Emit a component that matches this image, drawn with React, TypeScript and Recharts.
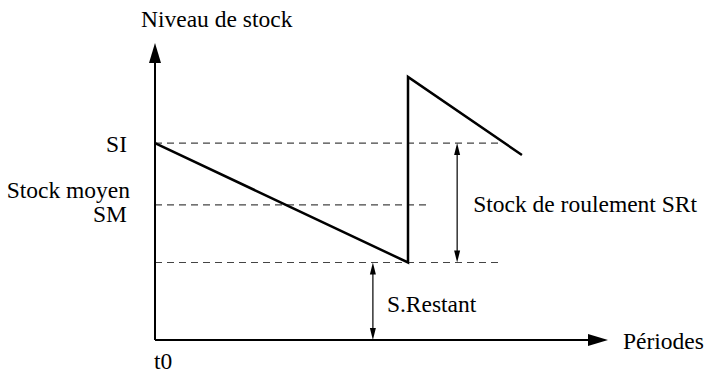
import { ComposedChart, Line, XAxis, YAxis, ReferenceLine, ReferenceDot } from 'recharts';

// sawtooth corner points (period, stock level) on a 0-100 scale
const periodX = [0, 55.85, 55.85, 81.0];
const stockLevel = [66.3, 26.1, 88.6, 62.3];

// horizontal reference levels: SI, SM, stock restant
const levelNames = ['SI', 'SM', 'SR'];
const levelValues = [66.3, 45.5, 26.1];
const levelDashEnd = [76.6, 60.3, 76.8];

// vertical double arrows
const srtArrowX = 66.7;
const restArrowX = 48.1;

const FONT = 'Liberation Serif';
const FS = 23.5;

const chartData = periodX.map((x, i) => ({ x, y: stockLevel[i] }));

function arrowShape(len: number, half: number, width: number, both: boolean) {
  return (p: any) => {
    const { x1, y1, x2, y2 } = p;
    const dx = x2 - x1;
    const dy = y2 - y1;
    const d = Math.hypot(dx, dy) || 1;
    const ux = dx / d;
    const uy = dy / d;
    const head = (tx: number, ty: number, sx: number, sy: number) => {
      const bx = tx - sx * len;
      const by = ty - sy * len;
      return `${tx},${ty} ${bx - sy * half},${by + sx * half} ${bx + sy * half},${by - sx * half}`;
    };
    const sx1 = both ? x1 + ux * (len - 2) : x1;
    const sy1 = both ? y1 + uy * (len - 2) : y1;
    return (
      <g>
        <line x1={sx1} y1={sy1} x2={x2 - ux * (len - 2)} y2={y2 - uy * (len - 2)} stroke="#000" strokeWidth={width} />
        <polygon points={head(x2, y2, ux, uy)} fill="#000" />
        {both && <polygon points={head(x1, y1, -ux, -uy)} fill="#000" />}
      </g>
    );
  };
}

// text drawn at a data point, shifted by dx/dy pixels
function textShape(text: string, dx: number, dy: number, anchor: 'start' | 'end' = 'start') {
  return (p: any) => (
    <text
      x={p.cx + dx}
      y={p.cy + dy}
      textAnchor={anchor}
      fill="#000"
      fontFamily={FONT}
      fontSize={FS}
      style={{ fontFamily: FONT, fontSize: FS }}
    >
      {text}
    </text>
  );
}

export default function App() {
  const [si, sm, sr] = levelValues;
  return (
    <div style={{ position: 'absolute', left: 0, top: 0, width: 707, height: 373, background: '#fff', fontFamily: FONT }}>
      <ComposedChart
        width={707}
        height={373}
        data={chartData}
        margin={{ top: 43, right: 99, bottom: 33, left: 155 }}
      >
        <XAxis dataKey="x" type="number" domain={[0, 100]} hide allowDataOverflow />
        <YAxis type="number" domain={[0, 100]} hide allowDataOverflow />

        {levelValues.map((v, i) => (
          <ReferenceLine
            key={levelNames[i]}
            segment={[{ x: 0, y: v }, { x: levelDashEnd[i], y: v }]}
            stroke="#444"
            strokeWidth={1.2}
            strokeDasharray="7 5"
            ifOverflow="visible"
          />
        ))}

        {/* axes with arrow heads */}
        <ReferenceLine
          segment={[{ x: 0, y: 0 }, { x: 0, y: 100 }]}
          ifOverflow="visible"
          shape={arrowShape(20, 6, 2, false)}
        />
        <ReferenceLine
          segment={[{ x: 0, y: 0 }, { x: 100, y: 0 }]}
          ifOverflow="visible"
          shape={arrowShape(20, 6, 2, false)}
        />

        {/* stock de roulement and stock restant */}
        <ReferenceLine
          segment={[{ x: srtArrowX, y: sr }, { x: srtArrowX, y: si }]}
          ifOverflow="visible"
          shape={arrowShape(12, 3, 1.2, true)}
        />
        <ReferenceLine
          segment={[{ x: restArrowX, y: 0 }, { x: restArrowX, y: sr }]}
          ifOverflow="visible"
          shape={arrowShape(12, 3, 1.2, true)}
        />

        <Line
          dataKey="y"
          type="linear"
          stroke="#000"
          strokeWidth={2.5}
          dot={false}
          activeDot={false}
          isAnimationActive={false}
          strokeLinejoin="miter"
        />

        {/* text */}
        <ReferenceDot x={0} y={100} r={1} ifOverflow="visible" shape={textShape('Niveau de stock', -14, -16)} />
        <ReferenceDot x={0} y={si} r={1} ifOverflow="visible" shape={textShape('SI', -28, 9, 'end')} />
        <ReferenceDot x={0} y={sm} r={1} ifOverflow="visible" shape={textShape('Stock moyen', -25, -7, 'end')} />
        <ReferenceDot x={0} y={sm} r={1} ifOverflow="visible" shape={textShape('SM', -28, 17, 'end')} />
        <ReferenceDot x={0} y={0} r={1} ifOverflow="visible" shape={textShape('t0', -1, 29)} />
        <ReferenceDot x={100} y={0} r={1} ifOverflow="visible" shape={textShape('Périodes', 15, 9)} />
        <ReferenceDot x={srtArrowX} y={(si + sr) / 2} r={1} ifOverflow="visible" shape={textShape('Stock de roulement SRt', 16, 9)} />
        <ReferenceDot x={restArrowX} y={sr / 2} r={1} ifOverflow="visible" shape={textShape('S.Restant', 14, 10.5)} />
      </ComposedChart>
    </div>
  );
}
